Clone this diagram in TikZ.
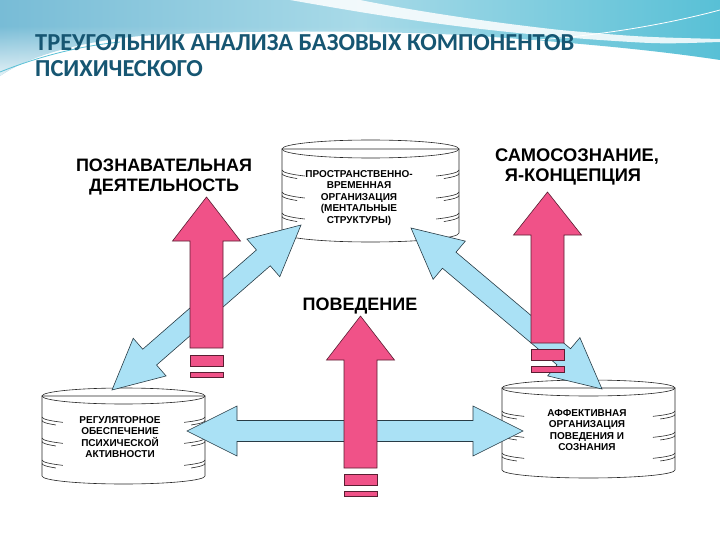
\documentclass[tikz,border=0pt]{standalone}
\usepackage{fontspec}
\setmainfont{Liberation Sans}
\newfontfamily\titlefont{Carlito}
\usetikzlibrary{calc,fadings}
\definecolor{pinkA}{RGB}{240,82,136}
\definecolor{pinkE}{RGB}{90,30,50}
\definecolor{blueA}{RGB}{170,225,245}
\definecolor{blueE}{RGB}{40,60,70}
\definecolor{titleC}{RGB}{22,86,114}
\definecolor{bgL}{RGB}{120,188,214}
\definecolor{bgM}{RGB}{168,218,232}
\definecolor{bgR}{RGB}{88,192,214}
\tikzset{
 cylline/.style={draw=black!85, line width=0.6pt},
 cyltext/.style={font=\bfseries\fontsize{10}{11.5}\selectfont, align=center, inner sep=0pt},
 biglabel/.style={font=\bfseries\fontsize{18}{20}\selectfont, inner sep=0pt, anchor=base},
 pinkarrow/.style={fill=pinkA, draw=pinkE, line width=0.6pt, line join=miter},
 bluearrow/.style={fill=blueA, draw=blueE, line width=0.6pt, line join=miter},
 titletext/.style={font=\titlefont\bfseries\fontsize{24.4}{28}\selectfont, text=titleC, inner sep=0pt, anchor=base west},
}
% #1 cx, #2 rx, #3 top centre y, #4 bottom centre y, #5 ry, #6 ridges
\newcommand\mycyl[6]{%
 \filldraw[cylline, fill=white] (#1-#2,#3) -- (#1-#2,#4) arc[start angle=180,end angle=360,x radius=#2pt,y radius=#5pt] -- (#1+#2,#3) -- cycle;
 \draw[cylline] (#1,#3) ellipse[x radius=#2pt,y radius=#5pt];
 \foreach \ry in {#6} {
   \draw[cylline] (#1-#2,\ry) arc[start angle=180,end angle=222,x radius=#2pt,y radius=#5pt];
   \draw[cylline] (#1+#2,\ry) arc[start angle=0,end angle=-42,x radius=#2pt,y radius=#5pt];
   \draw[cylline] (#1-#2,\ry+3.5) arc[start angle=180,end angle=214,x radius=#2pt,y radius=#5pt];
   \draw[cylline] (#1+#2,\ry+3.5) arc[start angle=0,end angle=-34,x radius=#2pt,y radius=#5pt];
 }
}
\newcommand\dblarrow[2]{%
 \draw[bluearrow] (#1) -- ($(#1)!50pt!(#2)!25pt!90:(#2)$) -- ($(#1)!50pt!(#2)!10.5pt!90:(#2)$)
  -- ($(#2)!50pt!(#1)!10.5pt!-90:(#1)$) -- ($(#2)!50pt!(#1)!25pt!-90:(#1)$) -- (#2)
  -- ($(#2)!50pt!(#1)!25pt!90:(#1)$) -- ($(#2)!50pt!(#1)!10.5pt!90:(#1)$)
  -- ($(#1)!50pt!(#2)!10.5pt!-90:(#2)$) -- ($(#1)!50pt!(#2)!25pt!-90:(#2)$) -- cycle;}
% #1 cx #2 tip y #3 head base y #4 shaft bottom #5-#8 bars
\newcommand\pinkup[8]{%
 \draw[pinkarrow] (#1,#2) -- (#1+34,#3) -- (#1+16.5,#3) -- (#1+16.5,#4) -- (#1-16.5,#4) -- (#1-16.5,#3) -- (#1-34,#3) -- cycle;
 \draw[pinkarrow] (#1-16.5,#5) rectangle (#1+16.5,#6);
 \draw[pinkarrow] (#1-16.5,#7) rectangle (#1+16.5,#8);
}
\begin{document}
\begin{tikzpicture}[x=1pt,y=-1pt]
\useasboundingbox (0,0) rectangle (720,540);
\fill[white] (0,0) rectangle (720,540);
% background band
\shade[left color=bgL, right color=bgR, middle color=bgM] (0,0) -- (720,0) -- (720,60) .. controls (640,48) and (560,42) .. (480,36) .. controls (380,30) and (230,30) .. (140,36) .. controls (80,42) and (30,55) .. (0,76) -- cycle;
\fill[white, opacity=0.8, path fading=north] (0,76) .. controls (30,55) and (80,42) .. (140,36) .. controls (230,30) and (380,30) .. (480,36) -- (480,26) -- (0,26) -- cycle;
\fill[white, opacity=0.85] (290,0) .. controls (370,14) and (460,30) .. (600,40) .. controls (660,44) .. (720,42) -- (720,39) .. controls (640,37) .. (560,30) .. controls (470,20) and (400,8) .. (360,0) -- cycle;
\draw[white, line width=0.8pt] (470,44) .. controls (580,40) and (660,26) .. (720,10);
\draw[bgR, line width=0.8pt] (0,72) .. controls (40,56) and (80,46) .. (120,42);
% title
\node[titletext] (t1) at (35,51) {ТРЕУГОЛЬНИК АНАЛИЗА БАЗОВЫХ КОМПОНЕНТОВ};
\node[titletext] (t2) at (35,77) {ПСИХИЧЕСКОГО};
% cylinders
\mycyl{370.5}{88.5}{149}{233}{9}{170,192,213}
\mycyl{123.5}{81.5}{396}{476}{8}{417,438,460}
\mycyl{588.5}{86.5}{388}{470}{8}{411,432,453}
\node[cyltext] (ctop) at (359,198) {ПРОСТРАНСТВЕННО-\\ВРЕМЕННАЯ\\ОРГАНИЗАЦИЯ\\(МЕНТАЛЬНЫЕ\\СТРУКТУРЫ)};
\node[cyltext] (cbl) at (120,437) {РЕГУЛЯТОРНОЕ\\ОБЕСПЕЧЕНИЕ\\ПСИХИЧЕСКОЙ\\АКТИВНОСТИ};
\node[cyltext] (cbr) at (587,430) {АФФЕКТИВНАЯ\\ОРГАНИЗАЦИЯ\\ПОВЕДЕНИЯ И\\СОЗНАНИЯ};
% blue arrows
\coordinate (la) at (112,390);
\coordinate (lb) at (301,225);
\coordinate (ra) at (411,228);
\coordinate (rb) at (602,389);
\coordinate (ha) at (187,431);
\coordinate (hb) at (523,431);
\dblarrow{la}{lb}
\dblarrow{ra}{rb}
\dblarrow{ha}{hb}
% pink arrows
\pinkup{206.5}{197}{241}{348}{355}{366}{372}{377}
\pinkup{360.5}{316}{360}{468}{474}{485}{491}{496}
\pinkup{547.5}{192}{235}{343}{349}{360}{366}{372}
% labels
\node[biglabel] (pz1) at (164,171.5) {ПОЗНАВАТЕЛЬНАЯ};
\node[biglabel] (pz2) at (164,191.5) {ДЕЯТЕЛЬНОСТЬ};
\node[biglabel, font=\bfseries\fontsize{18.3}{20}\selectfont] (sm1) at (577,161.5) {САМОСОЗНАНИЕ,};
\node[biglabel, font=\bfseries\fontsize{18.3}{20}\selectfont] (sm2) at (573,181.5) {Я-КОНЦЕПЦИЯ};
\node[biglabel] (pov) at (360,310) {ПОВЕДЕНИЕ};
\end{tikzpicture}
\end{document}
